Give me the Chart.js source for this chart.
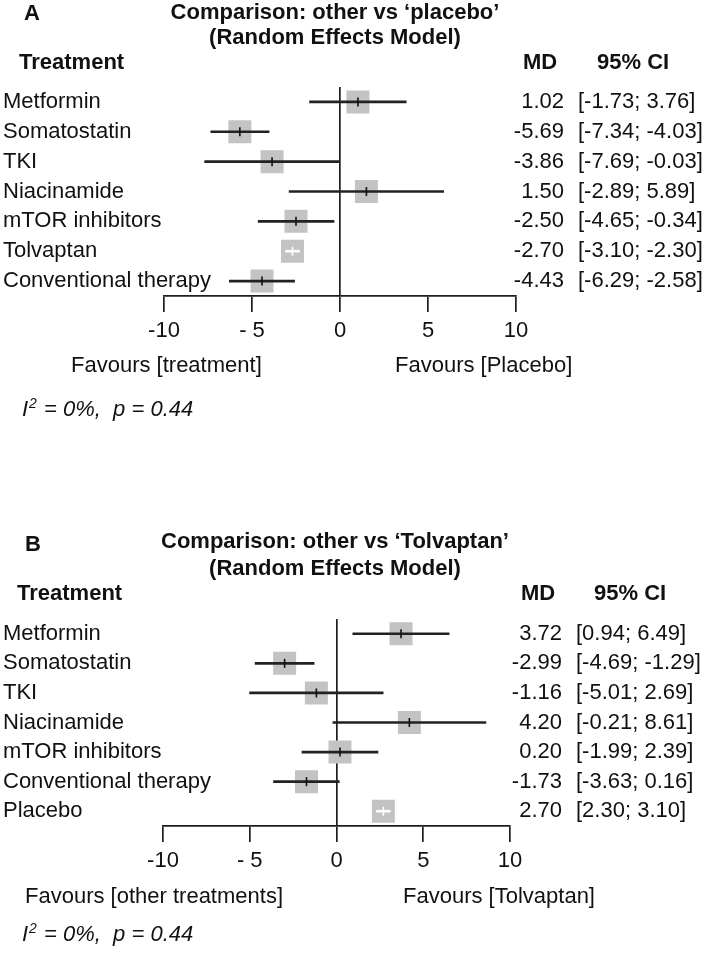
<!DOCTYPE html>
<html>
<head>
<meta charset="utf-8">
<script src="https://cdn.jsdelivr.net/npm/chart.js@4.4.1/dist/chart.umd.min.js"></script>
<style>
  html, body { margin: 0; padding: 0; background: #fff; }
  body { width: 706px; height: 956px; position: relative; overflow: hidden; }
  canvas { position: absolute; left: 0; }
  #cA { top: 0; }
  #cB { top: 530px; }
</style>
</head>
<body>
<canvas id="cA" width="706" height="478"></canvas>
<canvas id="cB" width="706" height="426"></canvas>
<script>
// ---------------- DATA ----------------
const treatmentsA = ['Metformin', 'Somatostatin', 'TKI', 'Niacinamide', 'mTOR inhibitors', 'Tolvaptan', 'Conventional therapy'];
const mdA   = [1.02, -5.69, -3.86, 1.50, -2.50, -2.70, -4.43];
const lowA  = [-1.73, -7.34, -7.69, -2.89, -4.65, -3.10, -6.29];
const highA = [3.76, -4.03, -0.03, 5.89, -0.34, -2.30, -2.58];

const treatmentsB = ['Metformin', 'Somatostatin', 'TKI', 'Niacinamide', 'mTOR inhibitors', 'Conventional therapy', 'Placebo'];
const mdB   = [3.72, -2.99, -1.16, 4.20, 0.20, -1.73, 2.70];
const lowB  = [0.94, -4.69, -5.01, -0.21, -1.99, -3.63, 2.30];
const highB = [6.49, -1.29, 2.69, 8.61, 2.39, 0.16, 3.10];

const tickValues = [-10, -5, 0, 5, 10];
const tickLabels = ['-10', '- 5', '0', '5', '10'];

const titleA = ['Comparison: other vs \u2018placebo\u2019', '(Random Effects Model)'];
const titleB = ['Comparison: other vs \u2018Tolvaptan\u2019', '(Random Effects Model)'];
const favoursA = ['Favours [treatment]', 'Favours [Placebo]'];
const favoursB = ['Favours [other treatments]', 'Favours [Tolvaptan]'];
const headers = ['Treatment', 'MD', '95% CI'];
const hetText = ['I', '2', ' = 0%,  p = 0.44'];

// ---------------- STYLE ----------------
const FONT = "'Liberation Sans', Arial, Helvetica, sans-serif";
const INK = '#111111';
const BOX = '#c3c3c3';
const BOX_SIDE = 23;

function fmt(v) { return v.toFixed(2); }

function makeChart(canvasId, labels, md, low, high, title, favours, letter, L) {
  const textPlugin = {
    id: 'forestText' + letter,
    afterDraw(chart) {
      const ctx = chart.ctx;
      const ys = chart.scales.y;
      ctx.save();
      ctx.fillStyle = INK;
      ctx.textBaseline = 'middle';
      // panel letter
      ctx.font = 'bold 22px ' + FONT;
      ctx.textAlign = 'left';
      ctx.fillText(letter, L.letterX, L.letterY);
      // title
      ctx.font = 'bold 22px ' + FONT;
      ctx.textAlign = 'center';
      ctx.fillText(title[0], L.titleX, L.titleY1);
      ctx.fillText(title[1], L.titleX, L.titleY2);
      // headers
      ctx.font = 'bold 22px ' + FONT;
      ctx.textAlign = 'left';
      ctx.fillText(headers[0], L.treatX, L.headerY);
      ctx.textAlign = 'center';
      ctx.fillText(headers[1], L.mdHeadX, L.headerY);
      ctx.textAlign = 'left';
      ctx.fillText(headers[2], L.ciHeadX, L.headerY);
      // MD and CI columns
      ctx.font = '22px ' + FONT;
      md.forEach((v, i) => {
        const py = ys.getPixelForValue(i);
        ctx.textAlign = 'right';
        ctx.fillText(fmt(v), L.mdRight, py);
        ctx.textAlign = 'left';
        ctx.fillText('[' + fmt(low[i]) + '; ' + fmt(high[i]) + ']', L.ciLeft, py);
      });
      // favours labels
      ctx.textAlign = 'left';
      ctx.fillText(favours[0], L.favLeftX, L.favY);
      ctx.fillText(favours[1], L.favRightX, L.favY);
      // heterogeneity
      ctx.font = 'italic 22px ' + FONT;
      let x = L.hetX;
      ctx.fillText(hetText[0], x, L.hetY);
      x += ctx.measureText(hetText[0]).width + 1;
      ctx.font = 'italic 14px ' + FONT;
      ctx.fillText(hetText[1], x, L.hetY - 6);
      x += ctx.measureText(hetText[1]).width + 1;
      ctx.font = 'italic 22px ' + FONT;
      ctx.fillText(hetText[2], x, L.hetY);
      ctx.restore();
    }
  };

  function insideBox(c) {
    const xs = c.chart.scales.x;
    const i = c.dataIndex;
    return Math.abs(xs.getPixelForValue(high[i]) - xs.getPixelForValue(low[i])) < BOX_SIDE;
  }

  const H = L.height;
  const xAxisH = 50;
  return new Chart(document.getElementById(canvasId), {
    type: 'bar',
    data: {
      labels: labels,
      datasets: [
        {
          type: 'line',
          label: 'box',
          order: 3,
          showLine: false,
          data: md.map((v, i) => ({ x: v, y: labels[i] })),
          pointStyle: 'rect',
          pointRadius: BOX_SIDE / Math.SQRT2,
          pointBackgroundColor: BOX,
          pointBorderWidth: 0,
          pointHoverRadius: BOX_SIDE / Math.SQRT2
        },
        {
          type: 'bar',
          label: 'ci',
          order: 2,
          data: low.map((v, i) => [v, high[i]]),
          barThickness: 2,
          backgroundColor: (c) => insideBox(c) ? '#ffffff' : '#222222',
          borderWidth: 0
        },
        {
          type: 'line',
          label: 'mid',
          order: 1,
          showLine: false,
          data: md.map((v, i) => ({ x: v, y: labels[i] })),
          pointStyle: 'line',
          pointRotation: 90,
          pointRadius: 4.5,
          pointBorderWidth: 1.6,
          pointBorderColor: (c) => insideBox(c) ? '#ffffff' : '#111111',
          pointBackgroundColor: 'rgba(0,0,0,0)'
        }
      ]
    },
    options: {
      indexAxis: 'y',
      responsive: false,
      animation: false,
      events: [],
      layout: {
        padding: { left: L.padLeft, right: 706 - L.plotRight, top: L.plotTop, bottom: H - L.plotBottom - xAxisH }
      },
      plugins: { legend: { display: false }, tooltip: { enabled: false } },
      scales: {
        x: {
          type: 'linear',
          min: -10,
          max: 10,
          afterFit: (s) => { s.height = xAxisH; },
          afterBuildTicks: (s) => { s.ticks = tickValues.map(v => ({ value: v })); },
          ticks: {
            callback: (value, index) => tickLabels[index],
            color: INK,
            font: { family: FONT, size: 22 },
            padding: 6,
            maxRotation: 0,
            autoSkip: false
          },
          grid: {
            drawOnChartArea: true,
            drawTicks: true,
            tickLength: 16,
            lineWidth: 1.7,
            tickColor: '#1e1e1e',
            color: (c) => (c.tick && c.tick.value === 0) ? '#1e1e1e' : 'rgba(0,0,0,0)'
          },
          border: { display: true, color: '#1e1e1e', width: 1.7 }
        },
        y: {
          type: 'category',
          offset: true,
          afterFit: (s) => { s.width = L.plotLeft - L.padLeft; },
          ticks: {
            mirror: true,
            padding: -(L.plotLeft - L.padLeft),
            color: INK,
            font: { family: FONT, size: 22 },
            autoSkip: false
          },
          grid: { display: false },
          border: { display: false }
        }
      }
    },
    plugins: [textPlugin]
  });
}

const layoutA = {
  height: 478, padLeft: 3, plotLeft: 164, plotRight: 516, plotTop: 87, plotBottom: 296,
  letterX: 24, letterY: 14, titleX: 335, titleY1: 13, titleY2: 38, headerY: 63, treatX: 19,
  mdHeadX: 540, ciHeadX: 597, mdRight: 564, ciLeft: 578,
  favLeftX: 71, favRightX: 395, favY: 366, hetX: 22, hetY: 410
};
const layoutB = {
  height: 426, padLeft: 3, plotLeft: 163, plotRight: 510, plotTop: 89, plotBottom: 296,
  letterX: 25, letterY: 15, titleX: 335, titleY1: 12, titleY2: 39, headerY: 64, treatX: 17,
  mdHeadX: 538, ciHeadX: 594, mdRight: 562, ciLeft: 576,
  favLeftX: 25, favRightX: 403, favY: 367, hetX: 22, hetY: 405
};

makeChart('cA', treatmentsA, mdA, lowA, highA, titleA, favoursA, 'A', layoutA);
makeChart('cB', treatmentsB, mdB, lowB, highB, titleB, favoursB, 'B', layoutB);
</script>
</body>
</html>
